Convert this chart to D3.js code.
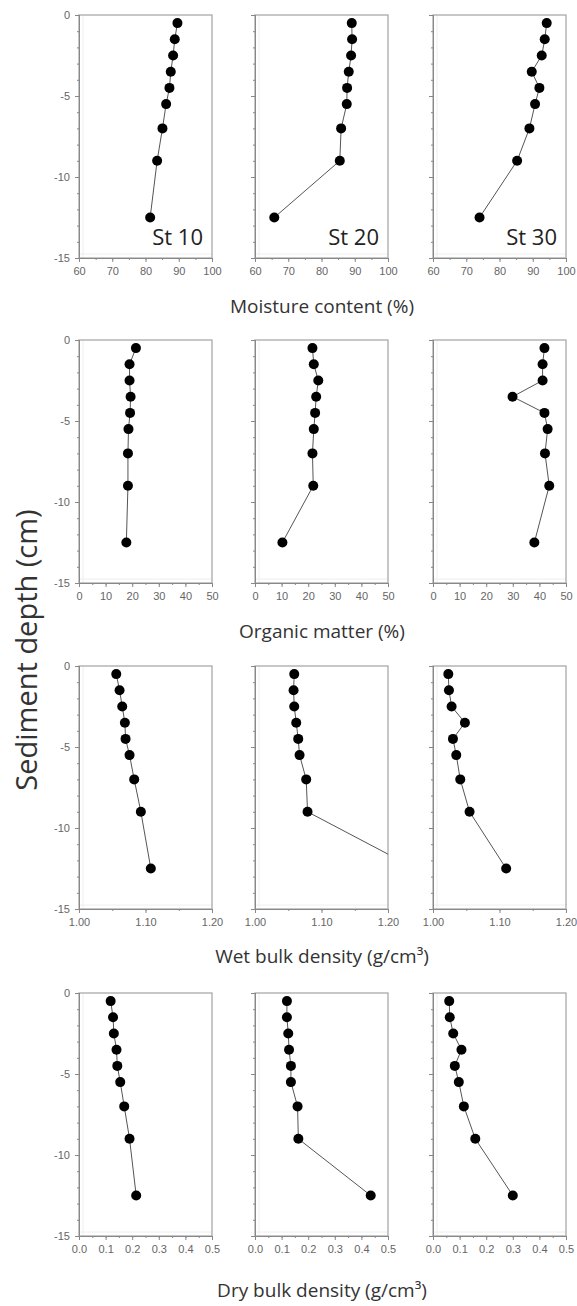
<!DOCTYPE html>
<html>
<head>
<meta charset="utf-8">
<script src="https://cdn.jsdelivr.net/npm/d3@7"></script>
<style>
  body { margin: 0; background: #fff; }
  .tick text { font-family: "Liberation Sans", Arial, sans-serif; font-size: 11px; fill: #666; }
  .title { font-family: "Open Sans", sans-serif; fill: #333; }
</style>
</head>
<body>
<svg id="chart"></svg>
<script>
// depth of each slice (cm)
var depths = [-0.5, -1.5, -2.5, -3.5, -4.5, -5.5, -7, -9, -12.5];
var stations = ["St 10", "St 20", "St 30"];

// one array per station: St 10, St 20, St 30
var moisture = [
    [89.6, 88.8, 88.3, 87.6, 87.2, 86.2, 85.1, 83.5, 81.4],
    [89.1, 89.2, 88.9, 88.2, 87.7, 87.6, 85.9, 85.5, 65.8],
    [94.2, 93.6, 92.7, 89.7, 92.0, 90.7, 89.0, 85.3, 74.0]
];
var organic = [
    [21.4, 19.0, 19.0, 19.4, 19.2, 18.6, 18.4, 18.4, 17.8],
    [21.6, 22.1, 23.8, 23.0, 22.6, 22.1, 21.6, 21.9, 10.3],
    [41.9, 41.2, 41.2, 29.9, 41.9, 43.1, 42.1, 43.7, 38.1]
];
var wetDensity = [
    [1.056, 1.061, 1.065, 1.069, 1.070, 1.076, 1.083, 1.093, 1.108],
    [1.059, 1.058, 1.059, 1.062, 1.065, 1.067, 1.077, 1.079, 1.241],
    [1.023, 1.024, 1.028, 1.048, 1.030, 1.035, 1.041, 1.055, 1.110]
];
var dryDensity = [
    [0.119, 0.128, 0.131, 0.141, 0.144, 0.155, 0.170, 0.190, 0.215],
    [0.120, 0.120, 0.125, 0.128, 0.135, 0.135, 0.160, 0.163, 0.435],
    [0.061, 0.063, 0.076, 0.107, 0.082, 0.097, 0.116, 0.159, 0.300]
];

var xTitles = ["Moisture content (%)", "Organic matter (%)",
               "Wet bulk density (g/cm³)", "Dry bulk density (g/cm³)"];
var xDomains = [[60, 100], [0, 50], [1.0, 1.2], [0, 0.5]];
var xTicks = [[60, 70, 80, 90, 100], [0, 10, 20, 30, 40, 50], [1.0, 1.1, 1.2], [0, 0.1, 0.2, 0.3, 0.4, 0.5]];
var xFormats = ["d", "d", ".2f", ".1f"];
var yTicks = [0, -5, -10, -15];
var yTitle = "Sediment depth (cm)";

var rowsData = [moisture, organic, wetDensity, dryDensity];

/* layout */
var width = 577, height = 1306;
var colLeft = [79, 255, 433], panelW = 133, panelH = 243;
var rowTop = [15, 340, 666, 993];
var titleY = [313, 638, 963, 1297];

var svg = d3.select("#chart").attr("width", width).attr("height", height);

var y = d3.scaleLinear().domain([-15, 0]).range([panelH, 0]);

rowsData.forEach(function(rowData, r) {
    var x = d3.scaleLinear().domain(xDomains[r]).range([0, panelW]);
    var step = xTicks[r][1] - xTicks[r][0];
    var minor = d3.range(xDomains[r][0], xDomains[r][1] + step / 4, step / 2);

    rowData.forEach(function(values, c) {
        var g = svg.append("g")
            .attr("transform", "translate(" + colLeft[c] + "," + rowTop[r] + ")");

        var clipId = "clip" + r + c;
        g.append("clipPath").attr("id", clipId)
            .append("rect").attr("width", panelW).attr("height", panelH);

        // faint inner frame + box
        g.append("line").attr("x1", 4).attr("x2", 4).attr("y1", 0).attr("y2", panelH)
            .style("stroke", "#eee");
        g.append("line").attr("x1", 0).attr("x2", panelW).attr("y1", panelH - 4).attr("y2", panelH - 4)
            .style("stroke", "#eee");
        g.append("rect").attr("width", panelW).attr("height", panelH)
            .style("fill", "none").style("stroke", "#aaa").style("stroke-width", 1.3);

        // left axis
        g.append("g").call(d3.axisLeft(y).tickValues(d3.range(-15, 1)).tickSize(2).tickFormat(""))
            .call(function(a) { a.selectAll("line, path").style("stroke", "#888"); });
        g.append("g").call(d3.axisLeft(y).tickValues(yTicks).tickSize(4).tickPadding(5)
                .tickFormat(function(d) { return c == 0 ? String(d) : ""; }))
            .call(function(a) { a.selectAll("line, path").style("stroke", "#888"); });

        // bottom axis
        g.append("g").attr("transform", "translate(0," + panelH + ")")
            .call(d3.axisBottom(x).tickValues(minor).tickSize(2).tickFormat(""))
            .call(function(a) { a.selectAll("line, path").style("stroke", "#888"); });
        g.append("g").attr("transform", "translate(0," + panelH + ")")
            .call(d3.axisBottom(x).tickValues(xTicks[r]).tickSize(4).tickPadding(5)
                .tickFormat(d3.format(xFormats[r])))
            .call(function(a) { a.selectAll("line, path").style("stroke", "#888"); });

        var pts = depths.map(function(d, i) { return [values[i], d]; });

        var plot = g.append("g").attr("clip-path", "url(#" + clipId + ")");
        plot.append("path")
            .datum(pts)
            .attr("d", d3.line().x(function(d) { return x(d[0]); }).y(function(d) { return y(d[1]); }))
            .style("fill", "none").style("stroke", "#555").style("stroke-width", 1);
        plot.selectAll("circle")
            .data(pts)
            .enter().append("circle")
            .attr("cx", function(d) { return x(d[0]); })
            .attr("cy", function(d) { return y(d[1]); })
            .attr("r", 5)
            .style("fill", "#000");

        if (r == 0) {
            g.append("text").attr("class", "title")
                .attr("x", panelW - 9).attr("y", panelH - 13)
                .attr("text-anchor", "end")
                .style("font-size", "22px").style("fill", "#222")
                .text(stations[c]);
        }
    });

    svg.append("text").attr("class", "title")
        .attr("x", 322).attr("y", titleY[r])
        .attr("text-anchor", "middle")
        .style("font-size", "19px")
        .text(xTitles[r]);
});

svg.append("text").attr("class", "title")
    .attr("transform", "translate(37,650) rotate(-90)")
    .attr("text-anchor", "middle")
    .style("font-size", "29px")
    .text(yTitle);
</script>
</body>
</html>
